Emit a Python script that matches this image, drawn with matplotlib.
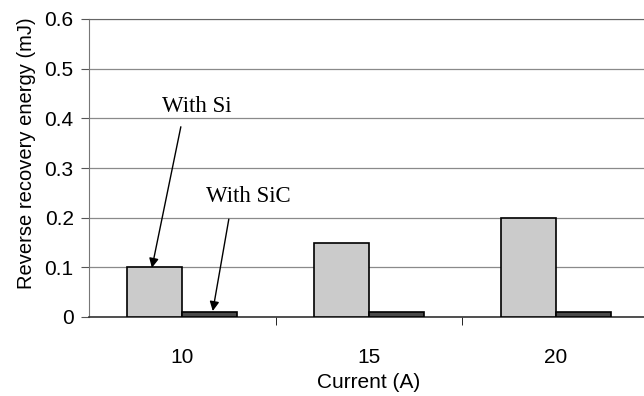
import numpy as np
import matplotlib.pyplot as plt

currents = ["10", "15", "20"]
energy_si = [0.10, 0.15, 0.20]
energy_sic = [0.01, 0.01, 0.01]
y_ticks = [0, 0.1, 0.2, 0.3, 0.4, 0.5, 0.6]
y_tick_labels = ["0", "0.1", "0.2", "0.3", "0.4", "0.5", "0.6"]

plt.rcParams["font.family"] = ["Liberation Sans", "DejaVu Sans"]

fig = plt.figure(figsize=(6.44, 3.96), dpi=100)
# plot area runs past the right edge of the figure
ax = fig.add_axes([89 / 644, 1 - 317 / 396, 560 / 644, 298 / 396])

x = np.arange(len(currents))
w = 0.295
ax.bar(x - w / 2, energy_si, w, color="#cbcbcb", edgecolor="black",
       linewidth=1.2, zorder=3)
ax.bar(x + w / 2, energy_sic, w, color="#4a4a4a", edgecolor="black",
       linewidth=1.2, zorder=3)

ax.set_xlim(-0.5, 2.5)
ax.set_ylim(0, 0.6)
ax.set_yticks(y_ticks)
ax.set_yticklabels(y_tick_labels, fontsize=15)
ax.set_xticks(x)
ax.set_xticklabels(currents, fontsize=15)
ax.tick_params(axis="x", which="major", length=0, pad=22)
ax.set_xticks([0.5, 1.5], minor=True)
ax.tick_params(axis="x", which="minor", length=6, direction="out", color="black")
ax.tick_params(axis="y", length=6, direction="out", color="#555555", pad=5)

ax.yaxis.grid(True, color="#8a8a8a", linewidth=0.9, zorder=0)
ax.set_axisbelow(True)
ax.spines["top"].set_linestyle((0, (1, 1)))
ax.spines["top"].set_color("#666666")
ax.spines["left"].set_color("#777777")
ax.spines["right"].set_visible(False)
ax.spines["bottom"].set_color("#333333")
ax.spines["bottom"].set_linewidth(1.2)

ax.set_ylabel("Reverse recovery energy (mJ)", fontsize=14.5, va="center")
ax.yaxis.set_label_coords(-0.111, 0.55)
ax.set_xlabel("Current (A)", fontsize=15, va="center")
ax.xaxis.set_label_coords(0.5, -0.221)

arrow = dict(arrowstyle="-|>", color="black", lw=1.0, mutation_scale=14,
             shrinkA=0, shrinkB=0)
ax.annotate("", xy=(-0.163, 0.099), xytext=(-0.008, 0.383), arrowprops=arrow)
ax.annotate("", xy=(0.163, 0.012), xytext=(0.249, 0.197), arrowprops=arrow)
ax.text(0.075, 0.423, "With Si", family="Liberation Serif", fontsize=16.5,
        ha="center", va="center")
ax.text(0.356, 0.242, "With SiC", family="Liberation Serif", fontsize=16.5,
        ha="center", va="center")

fig.savefig("out.png", dpi=100)
